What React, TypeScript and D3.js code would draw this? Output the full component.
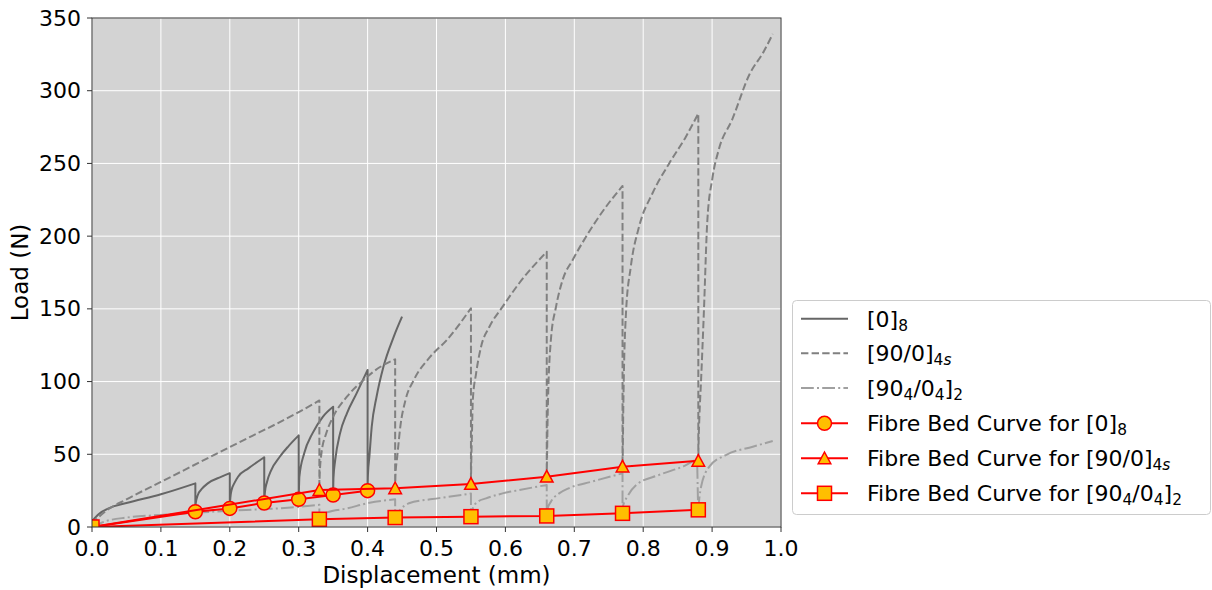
import React from "react";
import * as d3 from "d3";

// ---- Load–displacement records (mm, N) ----
const ply0X = [0, 0.01, 0.025, 0.05, 0.1, 0.15, 0.15, 0.1505, 0.1536, 0.16, 0.168, 0.188, 0.2, 0.2, 0.2008, 0.2026, 0.207, 0.212, 0.227, 0.25, 0.25, 0.251, 0.254, 0.26, 0.2725, 0.285, 0.3, 0.3, 0.3005, 0.301, 0.308, 0.32, 0.335, 0.35, 0.35, 0.3505, 0.353, 0.36, 0.37, 0.384, 0.4, 0.4, 0.4005, 0.4026, 0.406, 0.413, 0.423, 0.438, 0.45];
const ply0Y = [4, 9, 13, 16.5, 22.5, 30, 10.5, 16, 22, 26.5, 30, 34.6, 37, 12.8, 20, 25.4, 30.5, 34.6, 40.3, 48, 16.5, 24, 31, 39, 48.3, 55.5, 63, 19, 28, 34.6, 50.7, 64.4, 75.8, 82.7, 22, 34, 46, 64.4, 78.2, 91.9, 108, 25, 36, 48.4, 69, 89.6, 110.2, 130.9, 144.6];

const cross4sX = [0, 0.01, 0.02, 0.05, 0.1, 0.2, 0.3, 0.33, 0.33, 0.3305, 0.333, 0.34, 0.35, 0.37, 0.394, 0.418, 0.44, 0.44, 0.4405, 0.443, 0.4475, 0.455, 0.467, 0.491, 0.515, 0.55, 0.55, 0.5505, 0.5515, 0.5527, 0.5575, 0.5647, 0.5768, 0.596, 0.62, 0.66, 0.66, 0.6605, 0.6614, 0.666, 0.6735, 0.683, 0.6976, 0.717, 0.746, 0.77, 0.77, 0.7705, 0.771, 0.775, 0.782, 0.794, 0.8135, 0.8377, 0.862, 0.88, 0.88, 0.8805, 0.8815, 0.884, 0.888, 0.893, 0.9005, 0.91, 0.929, 0.954, 0.975, 0.988];
const cross4sY = [2, 7, 11, 19, 31, 55, 79, 87, 25.4, 36, 50.7, 64.4, 75.8, 89.6, 101, 110, 115.3, 26.6, 36, 48.3, 69, 87.3, 101, 117.1, 128.6, 150.4, 29.6, 45, 65, 87.3, 105.7, 124, 137.7, 151.5, 167.6, 189.3, 34.6, 50, 78, 128.6, 151.5, 169.8, 183.6, 199.6, 220.2, 234.5, 41.5, 55, 78, 147, 179, 206.5, 229.5, 250, 268.4, 284.4, 46, 60, 75, 101, 147, 210, 240, 260, 280, 311, 327, 339];

const blockX = [0, 0.02, 0.05, 0.1, 0.15, 0.2, 0.25, 0.3, 0.33, 0.33, 0.333, 0.34, 0.37, 0.403, 0.44, 0.44, 0.4425, 0.447, 0.46, 0.494, 0.52, 0.55, 0.55, 0.5527, 0.5599, 0.572, 0.596, 0.62, 0.66, 0.66, 0.6613, 0.666, 0.678, 0.6918, 0.7256, 0.77, 0.77, 0.7705, 0.777, 0.79, 0.823, 0.86, 0.878, 0.88, 0.8815, 0.884, 0.896, 0.92, 0.959, 0.988];
const blockY = [0, 4, 6.5, 8.3, 9.8, 11.2, 12.3, 13.8, 15.3, 5.3, 7.5, 9.9, 12.8, 16.7, 19, 6.5, 9, 11.7, 16.3, 19.2, 21, 23, 7.1, 12.8, 17.4, 19.7, 23.1, 25.4, 28.9, 7.6, 12.8, 17.4, 23.1, 26.6, 31.2, 36.9, 9.4, 14, 20.9, 28.9, 35.8, 42, 46, 12.5, 20, 27.7, 41.5, 49.5, 55.2, 59.1];

// ---- Fibre bed curves ----
const bed0X = [0, 0.15, 0.2, 0.25, 0.3, 0.35, 0.4];
const bed0Y = [0, 10.5, 12.8, 16.5, 19, 22, 25];
const bedCrossX = [0, 0.33, 0.44, 0.55, 0.66, 0.77, 0.88];
const bedCrossY = [0, 25.4, 26.6, 29.6, 34.6, 41.5, 45.5];
const bedBlockX = [0, 0.33, 0.44, 0.55, 0.66, 0.77, 0.88];
const bedBlockY = [0, 5.3, 6.5, 7.1, 7.6, 9.4, 11.8];

const xTicks = [0, 0.1, 0.2, 0.3, 0.4, 0.5, 0.6, 0.7, 0.8, 0.9, 1.0];
const yTicks = [0, 50, 100, 150, 200, 250, 300, 350];

type Part = { t: string; sub?: boolean; it?: boolean };
const lbl0: Part[] = [{ t: "[0]" }, { t: "8", sub: true }];
const lblCross: Part[] = [{ t: "[90/0]" }, { t: "4", sub: true }, { t: "s", sub: true, it: true }];
const lblBlock: Part[] = [{ t: "[90" }, { t: "4", sub: true }, { t: "/0" }, { t: "4", sub: true }, { t: "]" }, { t: "2", sub: true }];
const bedPrefix = "Fibre Bed Curve for ";

const W = 1212;
const H = 590;
const L = 92, R = 781, T = 18, B = 527;
const FONT = "DejaVu Sans, sans-serif";
const FS = 22;
const AXIS_FS = 23;
const RED = "#ff0000";
const FILL = "#ffbf00";

const zip = (xs: number[], ys: number[]) => xs.map((x, i) => [x, ys[i]] as [number, number]);

// Split a record at its vertical drops so each loading branch is smoothed on its own.
function branches(pts: [number, number][]) {
  const out: [number, number][][] = [];
  let cur: [number, number][] = [];
  pts.forEach((p, i) => {
    if (i > 0 && p[0] === pts[i - 1][0]) {
      out.push(cur);
      cur = [];
    }
    cur.push(p);
  });
  out.push(cur);
  return out;
}

function Label({ parts, x, y, prefix }: { parts: Part[]; x: number; y: number; prefix?: string }) {
  const shift = 4;
  let cur = 0;
  const spans: React.ReactNode[] = [];
  if (prefix) spans.push(<tspan key="p">{prefix}</tspan>);
  parts.forEach((p, i) => {
    const target = p.sub ? shift : 0;
    const dy = target - cur;
    cur = target;
    spans.push(
      <tspan key={i} dy={dy} fontSize={p.sub ? FS * 0.7 : FS} fontStyle={p.it ? "italic" : "normal"}>
        {p.t}
      </tspan>
    );
  });
  return (
    <text x={x} y={y} fontFamily={FONT} fontSize={FS} fill="#000">
      {spans}
    </text>
  );
}

function Marker({ kind, x, y }: { kind: string; x: number; y: number }) {
  const s = 7;
  if (kind === "circle") return <circle cx={x} cy={y} r={s} fill={FILL} stroke={RED} strokeWidth={1.5} />;
  if (kind === "square") return <rect x={x - s} y={y - s} width={2 * s} height={2 * s} fill={FILL} stroke={RED} strokeWidth={1.5} />;
  const t = 6.3;
  return <path d={`M${x},${y - t}L${x + t},${y + t * 0.85}L${x - t},${y + t * 0.85}Z`} fill={FILL} stroke={RED} strokeWidth={1.5} />;
}

export default function App() {
  const x = d3.scaleLinear().domain([0, 1]).range([L, R]);
  const y = d3.scaleLinear().domain([0, 350]).range([B, T]);
  const line = d3.line<[number, number]>().x((d) => x(d[0])).y((d) => y(d[1]));
  const smooth = d3
    .line<[number, number]>()
    .x((d) => x(d[0]))
    .y((d) => y(d[1]))
    .curve(d3.curveMonotoneX);
  const recordPath = (pts: [number, number][]) =>
    branches(pts)
      .map((b, i) => {
        const d = smooth(b) || "";
        return i === 0 ? d : "L" + d.slice(1);
      })
      .join("");

  const grey = [
    { data: zip(ply0X, ply0Y), color: "#666666", dash: undefined },
    { data: zip(cross4sX, cross4sY), color: "#808080", dash: "7.4,3.2" },
    { data: zip(blockX, blockY), color: "#a0a0a0", dash: "12.8,3.2,2,3.2" },
  ];
  const beds = [
    { data: zip(bed0X, bed0Y), kind: "circle" },
    { data: zip(bedCrossX, bedCrossY), kind: "triangle" },
    { data: zip(bedBlockX, bedBlockY), kind: "square" },
  ];

  const legendRows = [
    { y: 318.7, kind: "line", color: "#666666", dash: undefined, parts: lbl0, prefix: "" },
    { y: 353.3, kind: "line", color: "#808080", dash: "7.4,3.2", parts: lblCross, prefix: "" },
    { y: 388, kind: "line", color: "#a0a0a0", dash: "12.8,3.2,2,3.2", parts: lblBlock, prefix: "" },
    { y: 423.3, kind: "circle", color: RED, dash: undefined, parts: lbl0, prefix: bedPrefix },
    { y: 458.3, kind: "triangle", color: RED, dash: undefined, parts: lblCross, prefix: bedPrefix },
    { y: 493.3, kind: "square", color: RED, dash: undefined, parts: lblBlock, prefix: bedPrefix },
  ];

  return (
    <svg width={W} height={H} style={{ position: "absolute", left: 0, top: 0, background: "#fff" }}>
      <defs>
        <clipPath id="plot-clip">
          <rect x={L} y={T} width={R - L} height={B - T} />
        </clipPath>
      </defs>
      <rect x={L} y={T} width={R - L} height={B - T} fill="#d3d3d3" />
      {xTicks.map((t) => (
        <line key={"gx" + t} x1={x(t)} x2={x(t)} y1={T} y2={B} stroke="#fff" strokeWidth={1} />
      ))}
      {yTicks.map((t) => (
        <line key={"gy" + t} x1={L} x2={R} y1={y(t)} y2={y(t)} stroke="#fff" strokeWidth={1} />
      ))}
      <g clipPath="url(#plot-clip)">
        {grey.map((g, i) => (
          <path key={i} d={recordPath(g.data)} fill="none" stroke={g.color} strokeWidth={2} strokeDasharray={g.dash} strokeLinejoin="round" />
        ))}
        {beds.map((b, i) => (
          <g key={i}>
            <path d={line(b.data) || ""} fill="none" stroke={RED} strokeWidth={2} />
            {b.data.map((d, j) => (
              <Marker key={j} kind={b.kind} x={x(d[0])} y={y(d[1])} />
            ))}
          </g>
        ))}
      </g>
      <rect x={L} y={T} width={R - L} height={B - T} fill="none" stroke="#333" strokeWidth={1} />
      {xTicks.map((t) => (
        <g key={"tx" + t}>
          <line x1={x(t)} x2={x(t)} y1={B} y2={B + 5} stroke="#333" />
          <text x={x(t)} y={B + 29} textAnchor="middle" fontFamily={FONT} fontSize={FS}>
            {t.toFixed(1)}
          </text>
        </g>
      ))}
      {yTicks.map((t) => (
        <g key={"ty" + t}>
          <line x1={L - 5} x2={L} y1={y(t)} y2={y(t)} stroke="#333" />
          <text x={L - 11} y={y(t) + 7.5} textAnchor="end" fontFamily={FONT} fontSize={FS}>
            {t}
          </text>
        </g>
      ))}
      <text x={(L + R) / 2} y={583} textAnchor="middle" fontFamily={FONT} fontSize={AXIS_FS}>
        Displacement (mm)
      </text>
      <text transform={`translate(28,${(T + B) / 2}) rotate(-90)`} textAnchor="middle" fontFamily={FONT} fontSize={AXIS_FS}>
        Load (N)
      </text>
      <rect x={792.5} y={300.5} width={418} height={214} rx={4} fill="#fff" fillOpacity={0.8} stroke="#cccccc" />
      {legendRows.map((r, i) => (
        <g key={i}>
          <line x1={801} x2={848} y1={r.y} y2={r.y} stroke={r.color} strokeWidth={2} strokeDasharray={r.dash} />
          {r.kind !== "line" && <Marker kind={r.kind} x={824.5} y={r.y} />}
          <Label parts={r.parts} prefix={r.prefix} x={867} y={r.y + 8} />
        </g>
      ))}
    </svg>
  );
}
